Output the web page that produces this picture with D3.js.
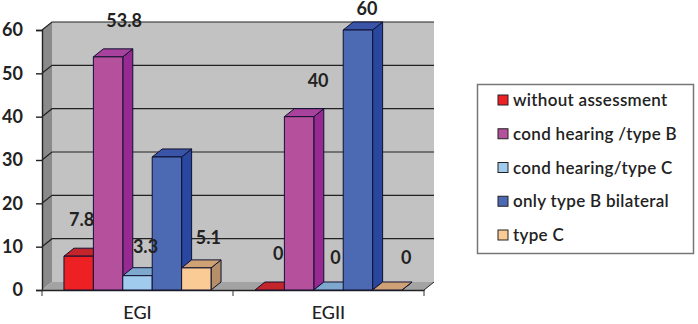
<!DOCTYPE html>
<html>
<head>
<meta charset="utf-8">
<script src="https://cdn.jsdelivr.net/npm/d3@7"></script>
<style>
  html, body { margin: 0; padding: 0; background: #fff; }
  svg { display: block; }
  text { font-family: Lato, "Open Sans", sans-serif; fill: #222; }
</style>
</head>
<body>
<svg id="chart" width="698" height="324"></svg>
<script>
const groups = ["EGI", "EGII"];
const seriesNames = ["without assessment", "cond hearing /type B", "cond hearing/type C", "only type B bilateral", "type C"];
const egiValues = [7.8, 53.8, 3.3, 30.7, 5.1];
const egiiValues = [0, 40, 0, 60, 0];
const egiLabels = ["7.8", "53.8", "3.3", null, "5.1"];
const egiiLabels = ["0", "40", "0", "60", "0"];
const yTicks = [0, 10, 20, 30, 40, 50, 60];

// colours per series: front, side, top
const frontColors = ["#ed2024", "#b5509c", "#a0cbec", "#4c69b3", "#fbcb95"];
const sideColors = ["#a81c20", "#962a90", "#7aa5cc", "#2a47a0", "#b58f68"];
const topColors = ["#c4252a", "#a8429c", "#7fa8cf", "#3a55a8", "#cfa275"];

// label offsets from the top-centre of each bar, the labels float around in the original
const egiOffsets = [[3, -30], [16, -30], [8, -23], [0, 0], [12, -24]];
const egiiOffsets = [[8.5, -30], [19, -30], [7, -26], [9, -15], [19, -26]];

const depthX = 10, depthY = 8;
const svg = d3.select("#chart");

const x0 = d3.scaleBand().domain(groups).range([42, 424]).paddingInner(0.23).paddingOuter(0.115);
const x1 = d3.scaleBand().domain(seriesNames).range([0, x0.bandwidth()]);
const y = d3.scaleLinear().domain([0, 60]).range([290, 30]);

const xLeft = x0.range()[0], xRight = x0.range()[1];
const poly = pts => pts.map(p => p.join(",")).join(" ");

// walls and floor
svg.append("polygon")
  .attr("points", poly([[xLeft + depthX, y(60) - depthY], [xRight + depthX, y(60) - depthY], [xRight + depthX, y(0) - depthY], [xLeft + depthX, y(0) - depthY]]))
  .attr("fill", "#c2c2c2");
svg.append("polygon")
  .attr("points", poly([[xLeft, y(60)], [xLeft + depthX, y(60) - depthY], [xLeft + depthX, y(0) - depthY], [xLeft, y(0)]]))
  .attr("fill", "#8a8a8a");
svg.append("polygon")
  .attr("points", poly([[xLeft, y(0)], [xLeft + depthX, y(0) - depthY], [xRight + depthX, y(0) - depthY], [xRight, y(0)]]))
  .attr("fill", "#a3a3a3");

// grid lines run over the left wall and then along the back
svg.append("g").selectAll("polyline")
  .data(yTicks.filter(d => d > 0))
  .enter()
  .append("polyline")
  .attr("points", d => poly([[xLeft, y(d)], [xLeft + depthX, y(d) - depthY], [xRight + depthX, y(d) - depthY]]))
  .attr("fill", "none")
  .attr("stroke", "#222")
  .attr("stroke-width", 1.2);

svg.append("polyline")
  .attr("points", poly([[xRight, y(0)], [xRight + depthX, y(0) - depthY]]))
  .attr("fill", "none")
  .attr("stroke", "#222")
  .attr("stroke-width", 1);

// axes
const yAxis = svg.append("g")
  .attr("transform", `translate(${xLeft},0)`)
  .call(d3.axisLeft(y).tickValues(yTicks).tickSize(6).tickPadding(13));
yAxis.selectAll("text").attr("font-size", 18).attr("font-weight", 700).style("fill", "#222");
yAxis.selectAll("line, path").attr("stroke", "#222").attr("stroke-width", 1.4);

const xAxis = svg.append("g")
  .attr("transform", `translate(0,${y(0)})`)
  .call(d3.axisBottom(x0).tickSize(0).tickPadding(16));
xAxis.selectAll("text").attr("font-size", 18).attr("font-weight", 500).style("fill", "#222");
xAxis.select("path").attr("stroke", "#222").attr("stroke-width", 1.4);

svg.append("g").selectAll("line")
  .data([0, 1, 2])
  .enter()
  .append("line")
  .attr("x1", d => xLeft + d * x0.step())
  .attr("x2", d => xLeft + d * x0.step())
  .attr("y1", y(0))
  .attr("y2", y(0) + 6)
  .attr("stroke", "#333")
  .attr("stroke-width", 1);

// bars, left to right so each front covers the side of its left neighbour
const barData = [];
groups.forEach((g, gi) => {
  const vals = gi === 0 ? egiValues : egiiValues;
  const labs = gi === 0 ? egiLabels : egiiLabels;
  const offs = gi === 0 ? egiOffsets : egiiOffsets;
  seriesNames.forEach((s, si) => {
    barData.push({ group: g, series: s, si: si, value: vals[si], label: labs[si], off: offs[si] });
  });
});

const bar = svg.append("g").selectAll("g")
  .data(barData)
  .enter()
  .append("g")
  .attr("stroke", "#101030")
  .attr("stroke-width", 1)
  .attr("stroke-linejoin", "round");

const left = d => x0(d.group) + x1(d.series);
const right = d => left(d) + x1.bandwidth();

bar.append("polygon")
  .attr("points", d => poly([[right(d), y(d.value)], [right(d) + depthX, y(d.value) - depthY], [right(d) + depthX, y(0) - depthY], [right(d), y(0)]]))
  .attr("fill", d => sideColors[d.si]);
bar.append("polygon")
  .attr("points", d => poly([[left(d), y(d.value)], [left(d) + depthX, y(d.value) - depthY], [right(d) + depthX, y(d.value) - depthY], [right(d), y(d.value)]]))
  .attr("fill", d => topColors[d.si]);
bar.filter(d => d.value > 0).append("rect")
  .attr("x", left)
  .attr("y", d => y(d.value))
  .attr("width", x1.bandwidth())
  .attr("height", d => y(0) - y(d.value))
  .attr("fill", d => frontColors[d.si]);

// data labels
svg.append("g").selectAll("text")
  .data(barData.filter(d => d.label !== null))
  .enter()
  .append("text")
  .attr("x", d => left(d) + x1.bandwidth() / 2 + d.off[0])
  .attr("y", d => y(d.value) + d.off[1])
  .attr("text-anchor", "middle")
  .attr("font-size", 18)
  .attr("font-weight", 700)
  .text(d => d.label);

// legend
const legend = svg.append("g");
legend.append("rect")
  .attr("x", 477.5).attr("y", 84.5)
  .attr("width", 216).attr("height", 169)
  .attr("fill", "#fff")
  .attr("stroke", "#777")
  .attr("stroke-width", 1.5);

const legendY = d3.scalePoint().domain(seriesNames).range([100, 235]);
const item = legend.selectAll("g")
  .data(seriesNames)
  .enter()
  .append("g")
  .attr("transform", d => `translate(0,${legendY(d)})`);
item.append("rect")
  .attr("x", 498).attr("y", -5)
  .attr("width", 10).attr("height", 10)
  .attr("fill", (d, i) => frontColors[i])
  .attr("stroke", "#222")
  .attr("stroke-width", 1);
item.append("text")
  .attr("x", 513).attr("y", 6)
  .attr("font-size", 17)
  .attr("font-weight", 600)
  .attr("letter-spacing", 0.3)
  .text(d => d);
</script>
</body>
</html>
